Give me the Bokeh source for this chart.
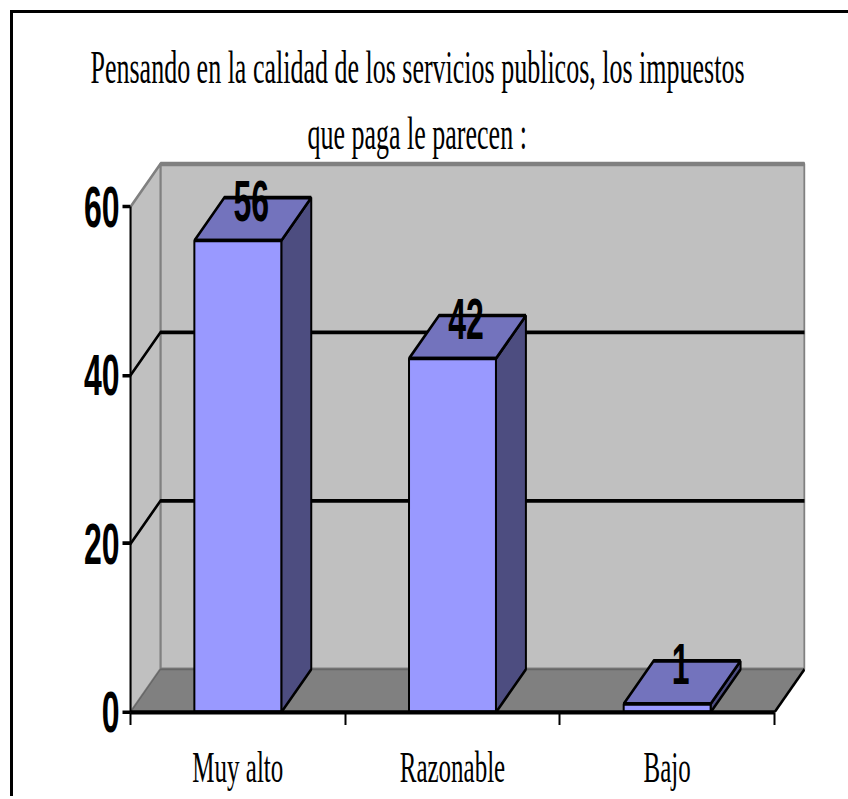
from bokeh.plotting import figure
from bokeh.layouts import column
from bokeh.embed import file_html
from bokeh.resources import INLINE
from bokeh.models import LinearAxis, FixedTicker, Range1d, Title
from bokeh.core.properties import value

title_lines = ["Pensando en la calidad de los servicios publicos, los impuestos", "que paga le parecen :"]
categories = ["Muy alto", "Razonable", "Bajo"]
values = [56, 42, 1]
y_ticks = [0, 20, 40, 60]
y_max = 60

# 3-D look: depth of the box in data units, bar width as share of a category
DX = 30 / 215
DY = 43 / 8.43
BAR = 0.405
SY = 1.8   # the reference is stretched vertically

SERIF = "Liberation Serif"
SANS = "Liberation Sans"

p = figure(width=835, height=242, output_backend="svg", toolbar_location=None,
           x_range=Range1d(0, 3 + DX + 0.005), y_range=Range1d(0, 65.6),
           min_border_left=117, min_border_right=43, min_border_top=81, min_border_bottom=44,
           x_axis_location=None, y_axis_location=None,
           styles={"transform": f"scaleY({SY})", "transform-origin": "0 0"})
p.xgrid.visible = False
p.ygrid.visible = False
p.outline_line_color = None
p.background_fill_color = "white"

# walls and floor
n = len(categories)
p.patch([DX, n + DX, n + DX, DX], [DY, DY, y_max + DY, y_max + DY], fill_color="#C0C0C0", line_color="#808080", line_width=2)
p.patch([0, DX, DX, 0], [0, DY, y_max + DY, y_max], fill_color="#C0C0C0", line_color="#808080", line_width=2)
p.patch([0, DX, n + DX, n], [0, DY, DY, 0], fill_color="#808080", line_color="#666666", line_width=1)
p.line([DX, n + DX], [y_max + DY, y_max + DY], line_color="#808080", line_width=2.5)
p.line([n, n + DX], [0, DY], line_color="black", line_width=2)

# gridlines on side and back wall
for t in y_ticks[1:-1]:
    p.line([0, DX, n + DX], [t, t + DY, t + DY], line_color="black", line_width=2)

# bars
for i, v in enumerate(values):
    c = i + 0.5
    l, r = c - BAR / 2, c + BAR / 2
    p.patch([r, r + DX, r + DX, r], [0, DY, v + DY, v], fill_color="#4D4D80", line_color="black", line_width=2)
    p.patch([l, r, r + DX, l + DX], [v, v, v + DY, v + DY], fill_color="#7373BD", line_color="black", line_width=2)
    p.patch([l, r, r, l], [0, 0, v, v], fill_color="#9999FF", line_color="black", line_width=2)

# value labels
p.text([i + 0.5 + DX * 0.45 for i in range(n)], values, text=[str(v) for v in values],
       y_offset=-11, text_align="center", text_baseline="bottom",
       text_font=value(SANS), text_font_style="bold", text_font_size="32px", text_color="black")

# axes
yax = LinearAxis(ticker=FixedTicker(ticks=y_ticks), bounds=(0, y_max),
                 axis_line_color="black", axis_line_width=2,
                 major_tick_in=0, major_tick_out=8, major_tick_line_width=2, minor_tick_line_color=None,
                 major_label_text_font=SANS, major_label_text_font_style="bold",
                 major_label_text_font_size="32px", major_label_text_color="black", major_label_standoff=3)
p.add_layout(yax, "left")

xax = LinearAxis(ticker=FixedTicker(ticks=[i + 0.5 for i in range(n)], minor_ticks=list(range(n + 1))),
                 bounds=(0, n),
                 major_label_overrides={i + 0.5: c for i, c in enumerate(categories)},
                 axis_line_color="black", axis_line_width=2.4,
                 major_tick_line_color=None, major_tick_in=0, major_tick_out=0,
                 minor_tick_in=0, minor_tick_out=7, minor_tick_line_color="black", minor_tick_line_width=2,
                 major_label_standoff=10,
                 major_label_text_font=SERIF, major_label_text_font_size="25px", major_label_text_color="black")
p.add_layout(xax, "below")

# title lines (first added sits nearest the plot)
p.add_layout(Title(text=title_lines[1], align="left", offset=177, standoff=0,
                   text_font=SERIF, text_font_size="26px", text_font_style="normal", text_color="black"), "above")
p.add_layout(Title(text=title_lines[0], align="left", offset=-40, standoff=11,
                   text_font=SERIF, text_font_size="26px", text_font_style="normal", text_color="black"), "above")

page = column(p, width=838, height=786,
              styles={"border-left": "3px solid black", "border-top": "3.6px solid black",
                      "margin-left": "10px", "margin-top": "10px"})

open("out.html", "w").write(file_html(page, INLINE))
